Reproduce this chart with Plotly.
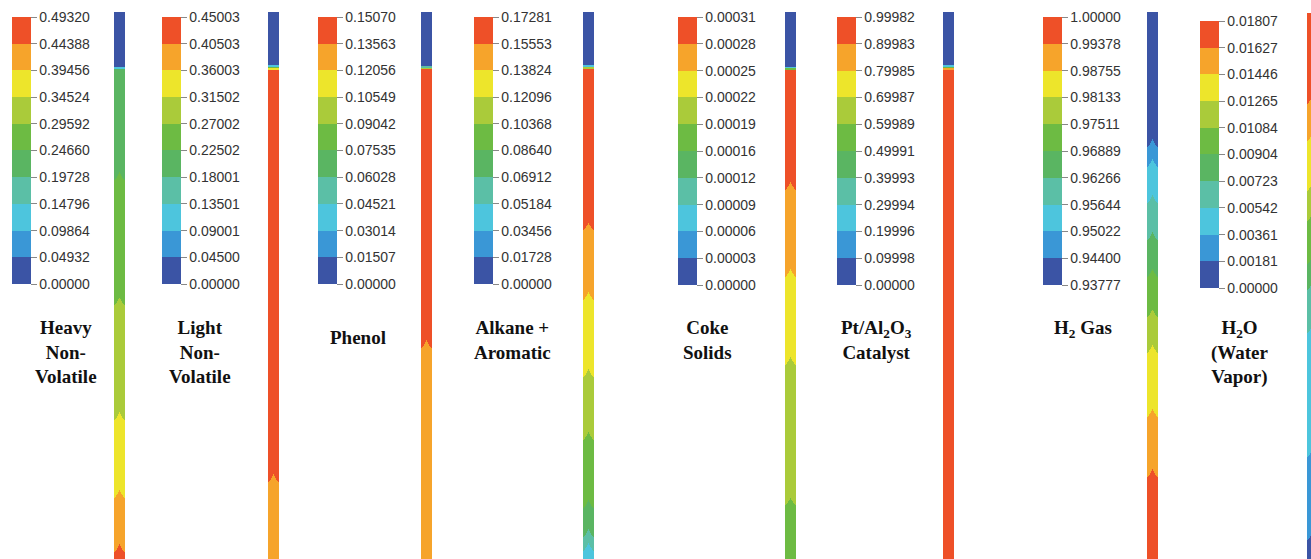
import plotly.graph_objects as go

W, H = 1311, 559

# ---------------- data ----------------
band_colors = ["#3B54A5", "#3A97D6", "#4DC5DD", "#5BBFA6", "#5AB562",
               "#6DBB43", "#AACB3A", "#EDE52B", "#F6A42B", "#EE5028"]

species = [
    "Heavy<br>Non-<br>Volatile",
    "Light<br>Non-<br>Volatile",
    "Phenol",
    "Alkane +<br>Aromatic",
    "Coke<br>Solids",
    "Pt/Al<sub>2</sub>O<sub>3</sub><br>Catalyst",
    "H<sub>2</sub> Gas",
    "H<sub>2</sub>O<br>(Water<br>Vapor)",
]

ticks_heavy = ["0.00000", "0.04932", "0.09864", "0.14796", "0.19728", "0.24660",
               "0.29592", "0.34524", "0.39456", "0.44388", "0.49320"]
ticks_light = ["0.00000", "0.04500", "0.09001", "0.13501", "0.18001", "0.22502",
               "0.27002", "0.31502", "0.36003", "0.40503", "0.45003"]
ticks_phenol = ["0.00000", "0.01507", "0.03014", "0.04521", "0.06028", "0.07535",
                "0.09042", "0.10549", "0.12056", "0.13563", "0.15070"]
ticks_alkane = ["0.00000", "0.01728", "0.03456", "0.05184", "0.06912", "0.08640",
                "0.10368", "0.12096", "0.13824", "0.15553", "0.17281"]
ticks_coke = ["0.00000", "0.00003", "0.00006", "0.00009", "0.00012", "0.00016",
              "0.00019", "0.00022", "0.00025", "0.00028", "0.00031"]
ticks_cat = ["0.00000", "0.09998", "0.19996", "0.29994", "0.39993", "0.49991",
             "0.59989", "0.69987", "0.79985", "0.89983", "0.99982"]
ticks_h2 = ["0.93777", "0.94400", "0.95022", "0.95644", "0.96266", "0.96889",
            "0.97511", "0.98133", "0.98755", "0.99378", "1.00000"]
ticks_h2o = ["0.00000", "0.00181", "0.00361", "0.00542", "0.00723", "0.00904",
             "0.01084", "0.01265", "0.01446", "0.01627", "0.01807"]

# contour bands down each column: colour-band index and where the band ends
# (normalised axial position, 0 = top of visible column, 1 = bottom)
heavy_bands = [0, 2, 4, 5, 6, 7, 8, 9]
heavy_ends = [0.100, 0.104, 0.307, 0.536, 0.746, 0.888, 0.987, 1.0]
light_bands = [0, 2, 5, 7, 9, 8]
light_ends = [0.097, 0.100, 0.103, 0.106, 0.859, 1.0]
phenol_bands = [0, 3, 6, 9, 8]
phenol_ends = [0.099, 0.102, 0.105, 0.614, 1.0]
alkane_bands = [0, 2, 6, 9, 8, 7, 6, 5, 4, 3, 2]
alkane_ends = [0.097, 0.100, 0.104, 0.399, 0.526, 0.667, 0.782, 0.907, 0.960, 0.985, 1.0]
coke_bands = [0, 2, 5, 9, 8, 7, 6, 5]
coke_ends = [0.100, 0.103, 0.106, 0.325, 0.484, 0.645, 0.902, 1.0]
cat_bands = [0, 2, 5, 8, 9]
cat_ends = [0.097, 0.100, 0.103, 0.106, 1.0]
h2_bands = [0, 1, 2, 3, 4, 5, 6, 7, 8, 9]
h2_ends = [0.247, 0.283, 0.349, 0.417, 0.484, 0.558, 0.623, 0.740, 0.850, 1.0]
h2o_bands = [9, 8, 7, 6, 5, 4, 3, 2, 1, 0]
h2o_ends = [0.166, 0.234, 0.325, 0.380, 0.459, 0.508, 0.587, 0.814, 0.965, 1.0]

all_ticks = [ticks_heavy, ticks_light, ticks_phenol, ticks_alkane,
             ticks_coke, ticks_cat, ticks_h2, ticks_h2o]
all_bands = [(heavy_bands, heavy_ends), (light_bands, light_ends),
             (phenol_bands, phenol_ends), (alkane_bands, alkane_ends),
             (coke_bands, coke_ends), (cat_bands, cat_ends),
             (h2_bands, h2_ends), (h2o_bands, h2o_ends)]

# ---------------- layout / style ----------------
cb_left = [12, 162, 318, 474, 678, 837, 1043, 1200]
cb_top = [17, 17, 17, 17, 17, 17, 17, 21]
cb_bot = [284, 284, 284, 284, 285, 285, 285, 288]
col_x = [(114, 125), (268, 279), (421, 432), (583, 594), (785, 796),
         (943, 954), (1147, 1158), (1307, 1318)]
col_top = [12, 12, 12, 12, 12, 12, 12, 13]
label_cx = [66, 200, 358, 512, 707, 876, 1083, 1240]
label_top = [315, 315, 325, 315, 315, 315, 315, 315]

NCOL, NROW = 11, 547
ARCH = 0.014

colorscale = []
for i, c in enumerate(band_colors):
    colorscale.append([i / 10, c])
    colorscale.append([(i + 1) / 10, c])


def field(bands, ends):
    xs = [-1 + 0.2 * j for j in range(NCOL)]
    ys = [(i + 0.5) / NROW for i in range(NROW)]
    z = []
    for y in ys:
        row = []
        for x in xs:
            k = bands[-1]
            for b, e in zip(bands, ends):
                e_adj = e - ARCH * (1 - abs(x)) ** 1.3 if 0.15 < e < 1 else e
                if y < e_adj:
                    k = b
                    break
            row.append(k + 0.5)
        z.append(row)
    return xs, ys, z


fig = go.Figure()
layout_axes = {}
for n in range(8):
    idx = n + 1
    xs, ys, z = field(*all_bands[n])
    fig.add_trace(go.Heatmap(
        x=xs, y=ys, z=z, zmin=0, zmax=10, colorscale=colorscale, zsmooth=False,
        xaxis=f"x{idx}", yaxis=f"y{idx}", hoverinfo="skip",
        showscale=True,
        colorbar=dict(
            x=cb_left[n] / W, xanchor="left", xpad=0,
            y=1 - cb_top[n] / H, yanchor="top", ypad=0,
            len=(cb_bot[n] - cb_top[n]) / H, lenmode="fraction",
            thickness=19, thicknessmode="pixels", outlinewidth=0,
            tickmode="array", tickvals=list(range(11)), ticktext=all_ticks[n],
            ticks="outside", ticklen=6, tickwidth=1, tickcolor="#888",
            tickfont=dict(family="Liberation Sans, Arial", size=14, color="#333"),
        ),
    ))
    x0, x1 = col_x[n]
    xd1 = min(x1, W) / W
    frac = (min(x1, W) - x0) / (x1 - x0)
    layout_axes[f"xaxis{idx}"] = dict(domain=[x0 / W, xd1], range=[-1.1, -1.1 + 2.2 * frac],
                                      visible=False, anchor=f"y{idx}")
    layout_axes[f"yaxis{idx}"] = dict(domain=[0, 1 - col_top[n] / H], range=[1, 0],
                                      visible=False, anchor=f"x{idx}")

annotations = []
for n in range(8):
    annotations.append(dict(
        text=f"<b>{species[n]}</b>", x=label_cx[n] / W, y=1 - label_top[n] / H,
        xref="paper", yref="paper", xanchor="center", yanchor="top",
        showarrow=False, align="center",
        font=dict(family="Liberation Serif, Times New Roman", size=19, color="#111"),
    ))

fig.update_layout(
    width=W, height=H, margin=dict(l=0, r=0, t=0, b=0),
    paper_bgcolor="white", plot_bgcolor="white",
    showlegend=False, annotations=annotations, **layout_axes,
)

fig.write_html("out.html", config={"displayModeBar": False},
               post_script="document.body.style.margin='0';document.body.style.overflow='hidden';")
